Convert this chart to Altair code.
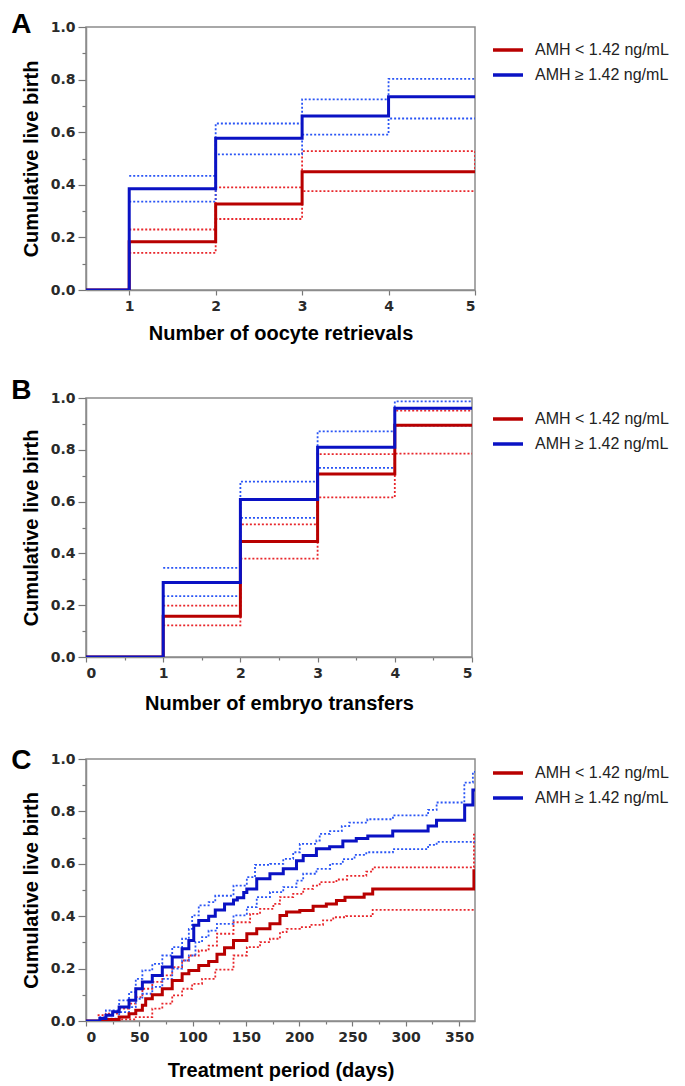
import altair as alt
import pandas as pd

GROUPS = ["AMH < 1.42 ng/mL", "AMH ≥ 1.42 ng/mL"]
RED = "#B80000"
BLUE = "#0A12C4"
RED_CI = "#E8262B"
BLUE_CI = "#2A55F5"

# ---------------- Panel A: oocyte retrievals ----------------
A_X = [0.5, 1, 2, 3, 4, 5]
A_LOW = [0, 0.183, 0.327, 0.450, 0.450, 0.450]
A_HIGH = [0, 0.385, 0.577, 0.662, 0.735, 0.735]
A_CI_X = [1, 2, 3, 4, 5]
A_LOW_UPPER = [0.230, 0.390, 0.528, 0.528, 0.450]
A_LOW_LOWER = [0.141, 0.270, 0.376, 0.376, 0.376]
A_HIGH_UPPER = [0.434, 0.633, 0.725, 0.803, 0.803]
A_HIGH_LOWER = [0.336, 0.516, 0.591, 0.652, 0.652]

# ---------------- Panel B: embryo transfers ----------------
B_X = [0, 1, 2, 3, 4, 5]
B_LOW = [0, 0.157, 0.446, 0.707, 0.895, 0.895]
B_HIGH = [0, 0.288, 0.608, 0.810, 0.960, 0.960]
B_CI_X = [1, 2, 3, 4, 5]
B_LOW_UPPER = [0.198, 0.512, 0.783, 0.951, 0.951]
B_LOW_LOWER = [0.122, 0.380, 0.616, 0.785, 0.785]
B_HIGH_UPPER = [0.344, 0.677, 0.871, 0.987, 0.987]
B_HIGH_LOWER = [0.235, 0.537, 0.730, 0.893, 0.893]

# ---------------- Panel C: treatment period (days) ----------------
C_HIGH_X = [0, 13, 18.7, 25, 31.1, 40.4, 46.7, 52.9, 62.2, 71.6, 80.9, 90.2, 96.5,
            101.1, 105.8, 115.1, 121.3, 130, 138.4, 142, 148, 150.9, 160.2, 172.6,
            185.1, 197.5, 203.8, 216.2, 228.6, 241, 253.6, 264.4, 287.8, 321, 328.9,
            355.3, 363, 365]
C_HIGH = [0, 0.010, 0.022, 0.035, 0.053, 0.079, 0.123, 0.149, 0.174, 0.206, 0.244,
          0.276, 0.307, 0.365, 0.384, 0.400, 0.424, 0.447, 0.462, 0.470, 0.490,
          0.504, 0.543, 0.562, 0.581, 0.612, 0.632, 0.657, 0.665, 0.687, 0.697,
          0.706, 0.725, 0.744, 0.766, 0.824, 0.882, 0.882]
C_HIGH_UPPER_X = [12.4, 18.7, 31.1, 40.4, 46.7, 52.9, 62.2, 71.6, 80.9, 90.2, 96.5,
                  99.6, 105.8, 115.1, 121.3, 138.4, 150.9, 158.6, 172.6, 185.1,
                  194.4, 200.6, 216.2, 219.3, 229, 240, 247, 264, 288, 321, 329,
                  355, 363, 365]
C_HIGH_UPPER = [0.015, 0.040, 0.079, 0.110, 0.161, 0.193, 0.218, 0.250, 0.282,
                0.314, 0.352, 0.403, 0.441, 0.454, 0.478, 0.517, 0.549, 0.596,
                0.600, 0.619, 0.644, 0.676, 0.689, 0.714, 0.725, 0.744, 0.757,
                0.770, 0.785, 0.806, 0.834, 0.910, 0.951, 0.951]
C_HIGH_LOWER_X = [15.6, 31.1, 40.4, 46.7, 52.9, 62.2, 71.6, 80.9, 90.2, 96.5, 102.7,
                  108.9, 115, 122.9, 138.4, 150.9, 160.2, 172.6, 185.1, 197.5,
                  203.8, 216.2, 229, 241, 252, 263, 288, 321, 329, 365]
C_HIGH_LOWER = [0.009, 0.034, 0.053, 0.085, 0.104, 0.130, 0.161, 0.200, 0.231,
                0.250, 0.301, 0.320, 0.345, 0.371, 0.403, 0.435, 0.473, 0.492,
                0.511, 0.536, 0.562, 0.581, 0.600, 0.618, 0.634, 0.644, 0.656,
                0.672, 0.684, 0.680]
C_LOW_X = [0, 14, 18.7, 31.1, 40.4, 46.7, 52.9, 56, 62.2, 71.6, 80.9, 90.2, 96.5,
           105.8, 115.1, 122.9, 130, 138.4, 150.9, 160.2, 172.6, 182, 188.2, 200.6,
           213.1, 225.5, 235, 243, 261, 269, 364, 365]
C_LOW = [0, 0.0, 0.006, 0.015, 0.028, 0.041, 0.060, 0.085, 0.100, 0.123, 0.155,
         0.180, 0.193, 0.212, 0.227, 0.255, 0.280, 0.307, 0.333, 0.352, 0.371,
         0.403, 0.416, 0.422, 0.438, 0.447, 0.460, 0.472, 0.485, 0.504, 0.573,
         0.573]
C_LOW_UPPER_X = [10.9, 18.7, 31.1, 40.4, 46.7, 52.9, 62.2, 71.6, 80.9, 90.2, 96.5,
                 105.8, 115.1, 122.9, 138.4, 154, 163.3, 175.8, 182, 194.4, 203.8,
                 213.1, 219.3, 235, 245, 263, 269, 364, 365]
C_LOW_UPPER = [0.022, 0.028, 0.047, 0.066, 0.091, 0.123, 0.149, 0.174, 0.206,
               0.231, 0.250, 0.269, 0.288, 0.333, 0.377, 0.409, 0.428, 0.447,
               0.473, 0.485, 0.504, 0.517, 0.530, 0.540, 0.554, 0.570, 0.586,
               0.711, 0.711]
C_LOW_LOWER_X = [18.7, 31.1, 46.7, 62.2, 71.6, 80.9, 90.2, 99.6, 108.9, 121.3,
                 138.4, 150.9, 163.3, 172.6, 182, 188.2, 200.6, 210, 222.4, 232,
                 244, 269, 365]
C_LOW_LOWER = [0.003, 0.006, 0.015, 0.047, 0.066, 0.098, 0.123, 0.142, 0.161,
               0.196, 0.250, 0.282, 0.301, 0.314, 0.339, 0.352, 0.358, 0.367,
               0.384, 0.396, 0.400, 0.424, 0.424]


def rows(xs, ys, grp, series, col):
    return [dict(x=x, y=y, grp=grp, series=series, key=grp + series, col=col)
            for x, y in zip(xs, ys)]


def frame(est_low, est_high, ci_low_u, ci_low_l, ci_high_u, ci_high_l):
    r = []
    r += rows(*est_low, GROUPS[0], "est", RED)
    r += rows(*est_high, GROUPS[1], "est", BLUE)
    r += rows(*ci_low_u, GROUPS[0], "upper", RED_CI)
    r += rows(*ci_low_l, GROUPS[0], "lower", RED_CI)
    r += rows(*ci_high_u, GROUPS[1], "upper", BLUE_CI)
    r += rows(*ci_high_l, GROUPS[1], "lower", BLUE_CI)
    return pd.DataFrame(r)


dfA = frame((A_X, A_LOW), (A_X, A_HIGH), (A_CI_X, A_LOW_UPPER), (A_CI_X, A_LOW_LOWER),
            (A_CI_X, A_HIGH_UPPER), (A_CI_X, A_HIGH_LOWER))
dfB = frame((B_X, B_LOW), (B_X, B_HIGH), (B_CI_X, B_LOW_UPPER), (B_CI_X, B_LOW_LOWER),
            (B_CI_X, B_HIGH_UPPER), (B_CI_X, B_HIGH_LOWER))
dfC = frame((C_LOW_X, C_LOW), (C_HIGH_X, C_HIGH), (C_LOW_UPPER_X, C_LOW_UPPER),
            (C_LOW_LOWER_X, C_LOW_LOWER), (C_HIGH_UPPER_X, C_HIGH_UPPER),
            (C_HIGH_LOWER_X, C_HIGH_LOWER))

LABEL_FONT = "DejaVu Sans"
TITLE_FONT = "Liberation Sans"

Y_VALUES = [round(i * 0.1, 1) for i in range(11)]


def y_enc():
    return alt.Y(
        "y:Q",
        scale=alt.Scale(domain=[0, 1], nice=False, zero=True),
        axis=alt.Axis(
            values=Y_VALUES,
            labelExpr="round(datum.value*10) % 2 == 0 ? format(datum.value, '.1f') : ''",
            tickSize={"condition": {"test": "round(datum.value*10) % 2 == 0", "value": 8},
                      "value": 4},
            title="Cumulative live birth",
            titlePadding=9,
            labelPadding=3,
            labelOverlap=False,
        ),
    )


def x_enc(domain, values, label_test, title, minor_test, title_pad):
    kw = {}
    if minor_test:
        kw["tickSize"] = {"condition": {"test": minor_test, "value": 5}, "value": 3}
        kw["labelExpr"] = "(" + label_test + ") ? format(datum.value, 'd') : ''"
    else:
        kw["tickSize"] = 5
        kw["format"] = "d"
    return alt.X(
        "x:Q",
        scale=alt.Scale(domain=domain, nice=False, zero=False),
        axis=alt.Axis(values=values, title=title, labelPadding=4,
                      titlePadding=title_pad, labelOverlap=False, **kw),
    )


def panel(df, letter, domain, values, label_test, title, minor_test, width, height,
          legend_y, title_pad, letter_offset):
    base = alt.Chart(df)
    x = x_enc(domain, values, label_test, title, minor_test, title_pad)
    y = y_enc()
    ci = base.transform_filter("datum.series != 'est'").mark_line(
        interpolate="step-after", strokeDash=[2, 2], strokeWidth=1.8, clip=True
    ).encode(x=x, y=y, detail="key:N", stroke=alt.Stroke("col:N", scale=None))
    est = base.transform_filter("datum.series == 'est'").mark_line(
        interpolate="step-after", strokeWidth=3, clip=True
    ).encode(
        x=x, y=y,
        color=alt.Color(
            "grp:N",
            scale=alt.Scale(domain=GROUPS, range=[RED, BLUE]),
            legend=alt.Legend(
                title=None, orient="none", legendX=405, legendY=legend_y,
                symbolType="stroke", symbolSize=900, symbolStrokeWidth=3.5,
                labelFont=TITLE_FONT, labelFontSize=16, labelColor="#222222",
                labelOffset=10, rowPadding=-7, padding=0, labelLimit=300,
            ),
        ),
    )
    return alt.layer(ci, est).properties(
        width=width, height=height,
        title=alt.TitleParams(letter, anchor="start", font=TITLE_FONT, fontSize=28,
                              fontWeight="bold", color="#000000", dx=-10,
                              offset=letter_offset),
    )


chartA = panel(dfA, "A", [0.5, 5], [1, 2, 3, 4, 5], None, "Number of oocyte retrievals",
               None, 389, 263, 6, 10, -19)
chartB = panel(dfB, "B", [0, 5], [i * 0.5 for i in range(11)],
               "round(datum.value*2) % 2 == 0", "Number of embryo transfers",
               "round(datum.value*2) % 2 == 0", 386, 259, 4, 13, -14)
chartC = panel(dfC, "C", [0, 365], [i * 25 for i in range(15)],
               "round(datum.value/25) % 2 == 0", "Treatment period (days)",
               "round(datum.value/25) % 2 == 0", 389, 262, -3, 16, -23)

chart = alt.vconcat(chartA, chartB, chartC, spacing=32).resolve_scale(
    color="independent"
).resolve_legend(
    color="independent"
).configure(
    padding={"left": 2, "top": 2, "right": 0, "bottom": 0},
    background="white",
).configure_view(
    stroke="#8c8c8c", strokeWidth=1.5
).configure_axis(
    domainColor="#8c8c8c", domainWidth=1.5, tickColor="#777777", tickWidth=1.2,
    labelFont=LABEL_FONT, labelFontSize=14, labelFontWeight="bold",
    labelColor="#2a2a2a", titleFont=TITLE_FONT, titleFontSize=20,
    titleFontWeight="bold", titleColor="#000000", grid=False,
)

chart.save("out.html", embed_options={"renderer": "svg", "actions": False})
